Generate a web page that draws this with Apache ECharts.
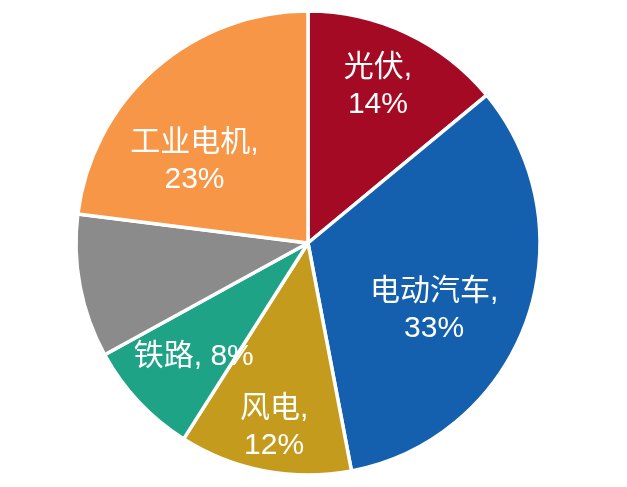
<!DOCTYPE html>
<html>
<head>
<meta charset="utf-8">
<script src="https://cdn.jsdelivr.net/npm/echarts@6/dist/echarts.min.js"></script>
<style>
  html, body { margin: 0; padding: 0; background: #fff; }
  #chart { width: 627px; height: 487px; }
</style>
</head>
<body>
<div id="chart"></div>
<script>
// 数据 (顺时针, 从12点方向开始)
var names = ['光伏', '电动汽车', '风电', '铁路', '其他', '工业电机']
var values = [14, 33, 12, 8, 10, 23]
var colors = ['#A50A24', '#1560AE', '#C49B1D', '#1FA386', '#8B8B8B', '#F79646']

var chart = echarts.init(document.getElementById('chart'))

// 标签微调
var labelOffsets = [[2, -12], [-24, 13], [-4, 28], [2, 5], [0, 0], [-8, 38]]

var pieData = names.map(function (n, i) {
  return { name: n, value: values[i], itemStyle: { color: colors[i] } }
})

var labelData = names.map(function (n, i) {
  var item = {
    name: n,
    value: values[i],
    label: { offset: labelOffsets[i] }
  }
  if (n === '铁路') {
    item.label.formatter = '{b}, {c}%'
  }
  if (n === '其他') {
    item.label.show = false
  }
  return item
})

var option = {
  backgroundColor: '#fff',
  animation: false,
  series: [
    {
      type: 'pie',
      center: [308, 243],
      radius: [0, 232],
      startAngle: 90,
      clockwise: true,
      silent: true,
      label: { show: false },
      labelLine: { show: false },
      itemStyle: {
        borderColor: '#fff',
        borderWidth: 3.5
      },
      data: pieData
    },
    {
      // 只用来放标签
      type: 'pie',
      center: [308, 243],
      radius: [81, 232],
      startAngle: 90,
      clockwise: true,
      silent: true,
      z: 5,
      itemStyle: { color: 'rgba(0,0,0,0)' },
      labelLine: { show: false },
      label: {
        show: true,
        position: 'inside',
        formatter: '{b},\n{c}%',
        color: '#fff',
        fontSize: 30,
        lineHeight: 37,
        fontFamily: '"Liberation Sans", Arial, "Noto Sans CJK SC"'
      },
      data: labelData
    }
  ]
}

chart.setOption(option)
</script>
</body>
</html>
